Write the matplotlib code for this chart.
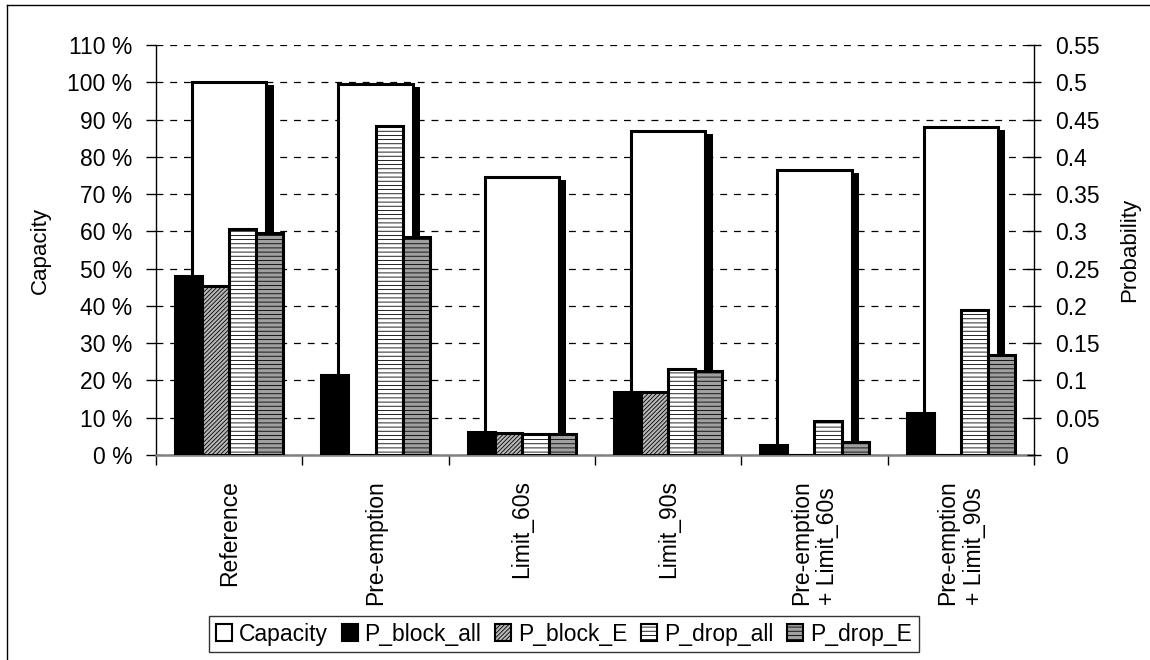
import numpy as np
import matplotlib
matplotlib.use("Agg")
import matplotlib.pyplot as plt
from matplotlib.lines import Line2D

plt.rcParams['font.family'] = ['Liberation Sans', 'DejaVu Sans']
plt.rcParams['hatch.linewidth'] = 0.6

categories = ["Reference", "Pre-emption", "Limit_60s", "Limit_90s",
              "Pre-emption\n+ Limit_60s", "Pre-emption\n+ Limit_90s"]
capacity = [100, 99.5, 74.5, 87, 76.5, 88]
p_block_all = [0.240, 0.107, 0.031, 0.084, 0.013, 0.057]
p_block_e = [0.227, 0.0, 0.030, 0.084, 0.0, 0.0]
p_drop_all = [0.303, 0.442, 0.028, 0.116, 0.045, 0.194]
p_drop_e = [0.298, 0.292, 0.028, 0.113, 0.018, 0.134]

left_ticks = list(range(0, 111, 10))
right_ticks = [0, 0.05, 0.1, 0.15, 0.2, 0.25, 0.3, 0.35, 0.4, 0.45, 0.5, 0.55]
right_labels = ["0", "0.05", "0.1", "0.15", "0.2", "0.25", "0.3", "0.35", "0.4", "0.45", "0.5", "0.55"]

fs = 16.5
fig = plt.figure(figsize=(11.5, 6.6), dpi=100)
ax = fig.add_axes([156/1150, 1-455/660, (1034-156)/1150, 410/660])
ax2 = ax.twinx()

x = np.arange(len(categories))
cap_w = 0.51
lw = 2.2

# capacity with the Excel-style shadow
ax.bar(x + 0.05, np.array(capacity) - 0.8, width=cap_w, color='black', zorder=2)
ax.bar(x, capacity, width=cap_w, facecolor='white', edgecolor='black', linewidth=lw,
       zorder=3, label='Capacity')

ax.set_xlim(-0.5, len(categories) - 0.5)
ax.set_ylim(0, 110)
ax.set_yticks(left_ticks)
ax.set_yticklabels([f"{v} %" for v in left_ticks], fontsize=fs)
ax.set_ylabel("Capacity", fontsize=16, labelpad=12)
ax.set_axisbelow(True)
ax.yaxis.grid(True, color='black', linewidth=0.9, linestyle=(0, (5.5, 5.5)))
ax.tick_params(axis='y', direction='out', length=7, width=1, pad=10)

ax.set_xticks(np.arange(-0.5, len(categories), 1.0))
ax.set_xticklabels([])
ax.tick_params(axis='x', which='major', direction='out', length=7, width=1)
ax.set_xticks(x, minor=True)
ax.set_xticklabels(categories, minor=True, rotation=90, fontsize=fs,
                   ha='center', va='top', multialignment='left')
ax.tick_params(axis='x', which='minor', length=0, pad=18)

ax.spines['top'].set_visible(False)
ax.spines['right'].set_visible(False)
ax.spines['left'].set_linewidth(1)
ax.spines['bottom'].set_color('#808080')
ax.spines['bottom'].set_linewidth(1.8)

w = 0.185
offs = np.array([-1.5, -0.5, 0.5, 1.5]) * w
ax2.bar(x + offs[0], p_block_all, width=w, facecolor='black', edgecolor='black',
        linewidth=lw, label='P_block_all')
ax2.bar(x + offs[1], p_block_e, width=w, facecolor='#b8b8b8', edgecolor='black',
        linewidth=lw, hatch='////////', label='P_block_E')
ax2.bar(x + offs[2], p_drop_all, width=w, facecolor='white', edgecolor='black',
        linewidth=lw, hatch='----', label='P_drop_all')
ax2.bar(x + offs[3], p_drop_e, width=w, facecolor='#a0a0a0', edgecolor='black',
        linewidth=lw, hatch='----', label='P_drop_E')

ax2.set_ylim(0, 0.55)
ax2.set_yticks(right_ticks)
ax2.set_yticklabels(right_labels, fontsize=fs)
ax2.set_ylabel("Probability", fontsize=16, labelpad=14)
ax2.tick_params(axis='y', direction='inout', length=10, width=1, pad=10)
for s in ['top', 'left', 'bottom']:
    ax2.spines[s].set_visible(False)
ax2.spines['right'].set_linewidth(1)

h1, l1 = ax.get_legend_handles_labels()
h2, l2 = ax2.get_legend_handles_labels()
leg = fig.legend(h1 + h2, l1 + l2, loc='center', bbox_to_anchor=(564/1150, 1-634/660),
                 ncol=5, fontsize=fs, frameon=True, fancybox=False,
                 handlelength=0.7, handleheight=0.7, handletextpad=0.3,
                 columnspacing=0.6, borderpad=0.3)
leg.get_frame().set_edgecolor('black')
leg.get_frame().set_linewidth(1)
for p in leg.get_patches():
    p.set_linewidth(1.5)

# outer chart frame
fig.add_artist(Line2D([7/1150, 7/1150], [0, 1-5/660], transform=fig.transFigure,
                      color='black', linewidth=1))
fig.add_artist(Line2D([7/1150, 1], [1-5/660, 1-5/660], transform=fig.transFigure,
                      color='black', linewidth=1))

fig.savefig("out.png", dpi=100)
